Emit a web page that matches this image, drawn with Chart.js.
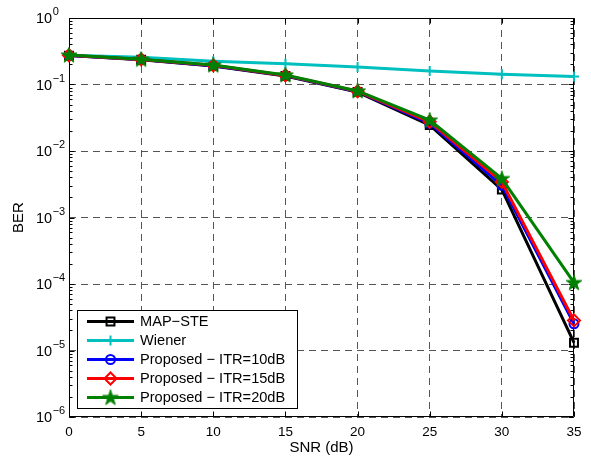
<!DOCTYPE html>
<html><head><meta charset="utf-8">
<script src="https://cdn.jsdelivr.net/npm/chart.js@4/dist/chart.umd.min.js"></script>
<style>html,body{margin:0;padding:0;background:#fff;}#wrap{width:591px;height:457px;position:relative;}</style>
</head><body><div id="wrap"><canvas id="c" width="591" height="457"></canvas></div>
<script>
// ---- data ----
const snr = [0, 5, 10, 15, 20, 25, 30, 35];
const xTickValues = [0, 5, 10, 15, 20, 25, 30, 35];
const yExponents = [0, -1, -2, -3, -4, -5, -6];
const seriesNames = ['MAP\u2212STE', 'Wiener', 'Proposed \u2212 ITR=10dB', 'Proposed \u2212 ITR=15dB', 'Proposed \u2212 ITR=20dB'];
const berMapSte = [0.272, 0.236, 0.190, 0.134, 0.077, 0.0245, 0.00263, 1.31e-5];
const berWiener = [0.275, 0.256, 0.224, 0.206, 0.184, 0.159, 0.143, 0.132];
const berItr10  = [0.274, 0.237, 0.192, 0.136, 0.078, 0.0260, 0.00305, 2.52e-5];
const berItr15  = [0.275, 0.238, 0.194, 0.137, 0.079, 0.0275, 0.00343, 2.83e-5];
const berItr20  = [0.277, 0.239, 0.196, 0.139, 0.080, 0.0291, 0.00385, 1.05e-4];
const xLabel = 'SNR (dB)';
const yLabel = 'BER';

const FONT = '"Liberation Sans", Arial, Helvetica, sans-serif';

function makeStar(color) {
  const c = document.createElement('canvas');
  c.width = 18; c.height = 18;
  const g = c.getContext('2d');
  const cx = 9, cy = 9.5, R = 8.2, r = R * 0.38;
  g.beginPath();
  for (let i = 0; i < 10; i++) {
    const ang = -Math.PI / 2 + i * Math.PI / 5;
    const rad = i % 2 === 0 ? R : r;
    const px = cx + rad * Math.cos(ang), py = cy + rad * Math.sin(ang);
    if (i === 0) g.moveTo(px, py); else g.lineTo(px, py);
  }
  g.closePath();
  g.fillStyle = color; g.fill();
  g.lineWidth = 1; g.strokeStyle = color; g.stroke();
  return c;
}
const starImg = makeStar('#008000');

const styles = [
  {color: '#000000', pointStyle: 'rect', radius: 5.6, bw: 2, order: 4},
  {color: '#00BFBF', pointStyle: 'cross', radius: 5, bw: 2, order: 3},
  {color: '#0000FF', pointStyle: 'circle', radius: 4.5, bw: 2, order: 2},
  {color: '#FF0000', pointStyle: 'rectRot', radius: 6, bw: 2, order: 1},
  {color: '#008000', pointStyle: starImg, radius: 8, bw: 0, order: 0}
];
const seriesValues = [berMapSte, berWiener, berItr10, berItr15, berItr20];

const datasets = seriesValues.map((vals, i) => ({
  label: seriesNames[i],
  data: snr.map((s, k) => ({x: s, y: vals[k]})),
  borderColor: styles[i].color,
  backgroundColor: 'rgba(0,0,0,0)',
  borderWidth: 3,
  pointStyle: styles[i].pointStyle,
  pointRadius: styles[i].radius,
  pointBorderWidth: styles[i].bw,
  pointBorderColor: styles[i].color,
  pointBackgroundColor: i === 4 ? styles[i].color : 'rgba(0,0,0,0)',
  order: styles[i].order,
  clip: false,
  tension: 0
}));

const decor = {
  id: 'decor',
  beforeDatasetsDraw(chart) {
    const {ctx, chartArea: a, scales: {x, y}} = chart;
    ctx.save();
    ctx.strokeStyle = '#000'; ctx.lineWidth = 1; ctx.setLineDash([]);
    const L = a.left + 0.5, R = a.right - 0.5, T = a.top + 0.5, B = a.bottom - 0.5;
    ctx.beginPath();
    ctx.rect(L, T, R - L, B - T);
    // x ticks inward
    xTickValues.forEach(v => {
      const px = Math.round(x.getPixelForValue(v)) + 0.5;
      ctx.moveTo(px, B); ctx.lineTo(px, B - 5);
      ctx.moveTo(px, T); ctx.lineTo(px, T + 5);
    });
    // y ticks major + minor
    yExponents.forEach(e => {
      const py = Math.round(y.getPixelForValue(Math.pow(10, e))) + 0.5;
      ctx.moveTo(L, py); ctx.lineTo(L + 5, py);
      ctx.moveTo(R, py); ctx.lineTo(R - 5, py);
      if (e < 0) {
        for (let m = 2; m <= 9; m++) {
          const pm = Math.round(y.getPixelForValue(m * Math.pow(10, e))) + 0.5;
          ctx.moveTo(L, pm); ctx.lineTo(L + 3, pm);
          ctx.moveTo(R, pm); ctx.lineTo(R - 3, pm);
        }
      }
    });
    ctx.stroke();
    // y tick labels 10^e
    ctx.fillStyle = '#000';
    ctx.textBaseline = 'middle'; ctx.textAlign = 'left';
    yExponents.forEach(e => {
      const py = y.getPixelForValue(Math.pow(10, e));
      ctx.font = '14.5px ' + FONT;
      ctx.fillText('10', 36, py + 1);
      const w = ctx.measureText('10').width;
      ctx.font = '11px ' + FONT;
      ctx.fillText(e < 0 ? '\u2212' + Math.abs(e) : String(e), 36 + w + 0.5, py - 6);
    });
    ctx.restore();
  },
  afterDatasetsDraw(chart) {
    const {ctx} = chart;
    ctx.save();
    const bx = 77.5, by = 310.5, bw = 220, bh = 98;
    ctx.fillStyle = '#fff';
    ctx.fillRect(bx, by, bw, bh);
    ctx.strokeStyle = '#000'; ctx.lineWidth = 1;
    ctx.strokeRect(bx, by, bw, bh);
    const rows = [321.5, 340.5, 359.5, 378.5, 397.5];
    seriesNames.forEach((name, i) => {
      const yy = rows[i];
      const st = styles[i];
      ctx.strokeStyle = st.color; ctx.lineWidth = 3;
      ctx.beginPath(); ctx.moveTo(87, yy); ctx.lineTo(134, yy); ctx.stroke();
      ctx.strokeStyle = st.color;
      ctx.fillStyle = i === 4 ? st.color : 'rgba(0,0,0,0)';
      ctx.lineWidth = st.bw;
      Chart.helpers.drawPoint(ctx, {pointStyle: st.pointStyle, radius: st.radius, borderWidth: st.bw, rotation: 0}, 110.5, yy);
      ctx.fillStyle = '#000';
      ctx.font = '14.6px ' + FONT;
      ctx.textBaseline = 'middle'; ctx.textAlign = 'left';
      ctx.fillText(name, 140, yy + 0.5);
    });
    ctx.restore();
  }
};

new Chart(document.getElementById('c'), {
  type: 'line',
  data: {datasets},
  options: {
    responsive: false,
    animation: false,
    events: [],
    layout: {padding: {left: 0, right: 17, top: 18, bottom: 0}},
    plugins: {legend: {display: false}, tooltip: {enabled: false}},
    scales: {
      x: {
        type: 'linear', min: 0, max: 35,
        afterBuildTicks: s => { s.ticks = xTickValues.map(v => ({value: v})); },
        afterFit: s => { s.height = 40; },
        ticks: {color: '#000', font: {family: FONT, size: 13.5}, padding: 7, maxRotation: 0},
        grid: {color: '#555555', lineWidth: 1, drawTicks: false},
        border: {display: false, dash: [7, 5]},
        title: {display: true, text: xLabel, color: '#000', font: {family: FONT, size: 15}, padding: {top: 0, bottom: 0}}
      },
      y: {
        type: 'logarithmic', min: 1e-6, max: 1,
        afterBuildTicks: s => { s.ticks = yExponents.map(e => ({value: Math.pow(10, e), major: true})); },
        afterFit: s => { s.width = 69; },
        ticks: {display: false},
        grid: {color: '#555555', lineWidth: 1, drawTicks: false},
        border: {display: false, dash: [7, 5]},
        title: {display: true, text: yLabel, color: '#000', font: {family: FONT, size: 15}, padding: {top: 10, bottom: 0}}
      }
    }
  },
  plugins: [decor]
});
</script></body></html>
